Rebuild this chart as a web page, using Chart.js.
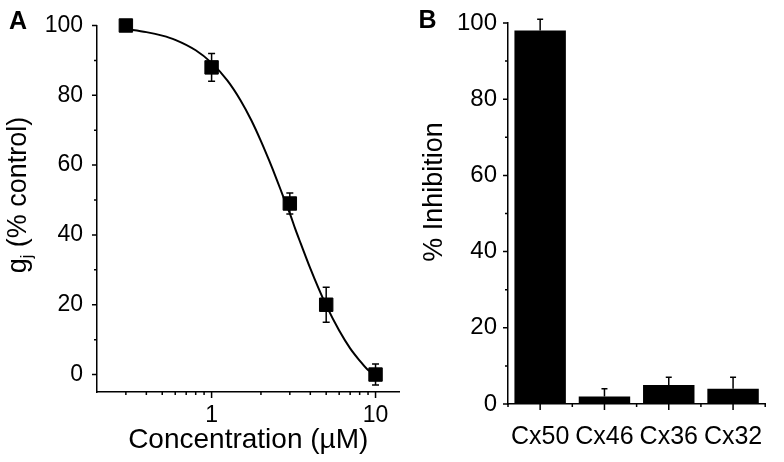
<!DOCTYPE html>
<html>
<head>
<meta charset="utf-8">
<script src="https://cdn.jsdelivr.net/npm/chart.js@4.4.1/dist/chart.umd.min.js"></script>
<style>
body { margin: 0; background: #fff; }
#wrap { position: relative; width: 784px; height: 462px; }
canvas { position: absolute; top: 0; }
#cvsA { left: 0; }
#cvsB { left: 410px; }
</style>
</head>
<body>
<div id="wrap">
<canvas id="cvsA" width="410" height="462"></canvas>
<canvas id="cvsB" width="374" height="462"></canvas>
</div>
<script>
// panel A - concentration / response
var concValues = [0.3, 1, 3, 5, 10];
var gjValues = [100, 88, 49, 20, 0];
var gjErrors = [0, 4, 3, 5, 3];
// fitted curve
var fitConc = [0.3, 0.4, 0.5, 0.6, 0.8, 1, 1.25, 1.5, 1.75, 2, 2.25, 2.5, 2.75, 3, 3.25, 3.5, 4, 4.5, 5, 6, 7, 8, 9, 10];
var fitGj = [99, 98.1, 97.1, 95.9, 92.9, 89.3, 84.2, 78.6, 72.8, 66.9, 61.2, 55.8, 50.7, 46.2, 41.5, 37.5, 30.4, 24.6, 19.8, 12.6, 7.5, 4, 1.3, 0];
var concTickLabels = [1, 10];
var concMinorTicks = [0.3, 0.4, 0.5, 0.6, 0.7, 0.8, 0.9, 2, 3, 4, 5, 6, 7, 8, 9];
var gjTickLabels = [0, 20, 40, 60, 80, 100];
var gjMinorTicks = [10, 30, 50, 70, 90];

// panel B - inhibition per connexin
var connexins = ["Cx50", "Cx46", "Cx36", "Cx32"];
var inhibition = [98, 2, 5, 4];
var inhibitionErrors = [3, 2, 2, 3];
var inhibitionTickLabels = [0, 20, 40, 60, 80, 100];
var inhibitionMinorTicks = [10, 30, 50, 70, 90];

var FONT = "'Liberation Sans', Arial, sans-serif";
Chart.defaults.font.family = FONT;
Chart.defaults.color = "#000";

var tickMarks = {
	id: "tickMarks",
	afterDraw: function(chart, args, opts) {
		var ctx = chart.ctx;
		var area = chart.chartArea;
		var xs = chart.scales.x, ys = chart.scales.y;
		ctx.save();
		ctx.strokeStyle = "#000";
		ctx.lineWidth = 1.5;
		ctx.beginPath();
		opts.xMajor.forEach(function(v) {
			var px = xs.getPixelForValue(v);
			ctx.moveTo(px, area.bottom); ctx.lineTo(px, area.bottom + 6);
		});
		opts.xMinor.forEach(function(v) {
			var px = xs.getPixelForValue(v);
			ctx.moveTo(px, area.bottom); ctx.lineTo(px, area.bottom + 3);
		});
		opts.yMajor.forEach(function(v) {
			var py = ys.getPixelForValue(v);
			ctx.moveTo(area.left - 5, py); ctx.lineTo(area.left, py);
		});
		opts.yMinor.forEach(function(v) {
			var py = ys.getPixelForValue(v);
			ctx.moveTo(area.left - 3, py); ctx.lineTo(area.left, py);
		});
		ctx.stroke();
		ctx.restore();
	}
};

var errorBars = {
	id: "errorBars",
	afterDatasetsDraw: function(chart, args, opts) {
		var ctx = chart.ctx;
		var ys = chart.scales.y;
		var ds = chart.data.datasets[opts.dataset];
		var meta = chart.getDatasetMeta(opts.dataset);
		ctx.save();
		ctx.strokeStyle = "#000";
		ctx.lineWidth = 1.5;
		ctx.beginPath();
		meta.data.forEach(function(el, i) {
			var e = opts.errors[i];
			if (!e) return;
			var v = ds.data[i].y !== undefined ? ds.data[i].y : ds.data[i];
			var top = ys.getPixelForValue(v + e);
			var bot = opts.both ? ys.getPixelForValue(v - e) : ys.getPixelForValue(v);
			ctx.moveTo(el.x, top); ctx.lineTo(el.x, bot);
			ctx.moveTo(el.x - opts.cap, top); ctx.lineTo(el.x + opts.cap, top);
			if (opts.both) {
				ctx.moveTo(el.x - opts.cap, bot); ctx.lineTo(el.x + opts.cap, bot);
			}
		});
		ctx.stroke();
		ctx.restore();
	}
};

// panel letter and rotated y title (with optional subscript)
var panelText = {
	id: "panelText",
	afterDraw: function(chart, args, opts) {
		var ctx = chart.ctx;
		ctx.save();
		ctx.fillStyle = "#000";
		ctx.font = "bold 25px " + FONT;
		ctx.textAlign = "center";
		ctx.textBaseline = "alphabetic";
		ctx.fillText(opts.letter, opts.x, opts.y);

		var big = "27px " + FONT;
		var small = "16px " + FONT;
		var parts = opts.title;
		var widths = parts.map(function(p) {
			ctx.font = p.sub ? small : big;
			return ctx.measureText(p.text).width;
		});
		var total = widths.reduce(function(a, b) { return a + b; }, 0);
		var pos = -total / 2;
		ctx.translate(opts.titleX, opts.titleY);
		ctx.rotate(-Math.PI / 2);
		ctx.textAlign = "left";
		parts.forEach(function(p, i) {
			ctx.font = p.sub ? small : big;
			ctx.fillText(p.text, pos, p.sub ? 6 : 0);
			pos += widths[i];
		});
		ctx.restore();
	}
};

new Chart(document.getElementById("cvsA"), {
	type: "scatter",
	data: {
		datasets: [
			{
				data: fitConc.map(function(c, i) { return {x: c, y: fitGj[i]}; }),
				showLine: true,
				borderColor: "#000",
				borderWidth: 2,
				pointRadius: 0,
				cubicInterpolationMode: "monotone",
				clip: false
			},
			{
				data: concValues.map(function(c, i) { return {x: c, y: gjValues[i]}; }),
				pointStyle: "rect",
				pointRadius: 9.5,
				backgroundColor: "#000",
				borderColor: "#000",
				borderWidth: 1,
				clip: false
			}
		]
	},
	options: {
		responsive: false,
		maintainAspectRatio: false,
		animation: false,
		layout: { padding: { top: 16, right: 5, left: 0, bottom: 0 } },
		scales: {
			x: {
				type: "logarithmic",
				min: 0.2,
				max: 14,
				grid: { display: false, drawTicks: false },
				border: { display: true, color: "#000", width: 1.5 },
				ticks: {
					padding: 12,
					autoSkip: false,
					maxRotation: 0,
					font: { size: 23, lineHeight: 1 },
					callback: function(v) { return String(v); }
				},
				title: {
					display: true,
					text: "Concentration (µM)",
					font: { size: 28, lineHeight: 1.2 },
					padding: { top: 0, bottom: 5 }
				},
				afterBuildTicks: function(s) { s.ticks = concTickLabels.map(function(v) { return {value: v}; }); },
				afterFit: function(s) { s.height = 70; }
			},
			y: {
				min: -5,
				max: 100,
				grid: { display: false, drawTicks: false },
				border: { display: true, color: "#000", width: 1.5 },
				ticks: { padding: 14, font: { size: 23, lineHeight: 1 } },
				afterBuildTicks: function(s) { s.ticks = gjTickLabels.map(function(v) { return {value: v}; }); },
				afterFit: function(s) { s.width = 97; }
			}
		},
		plugins: {
			legend: { display: false },
			tooltip: { enabled: false },
			tickMarks: { xMajor: concTickLabels, xMinor: concMinorTicks, yMajor: gjTickLabels, yMinor: gjMinorTicks },
			errorBars: { dataset: 1, errors: gjErrors, both: true, cap: 3.5 },
			panelText: {
				letter: "A", x: 18, y: 29,
				titleX: 26, titleY: 195,
				title: [{text: "g"}, {text: "j", sub: true}, {text: " (% control)"}]
			}
		}
	},
	plugins: [tickMarks, errorBars, panelText]
});

new Chart(document.getElementById("cvsB"), {
	type: "bar",
	data: {
		labels: connexins,
		datasets: [
			{
				data: inhibition,
				backgroundColor: "#000",
				borderWidth: 0,
				barPercentage: 0.8,
				categoryPercentage: 1.0
			}
		]
	},
	options: {
		responsive: false,
		maintainAspectRatio: false,
		animation: false,
		layout: { padding: { top: 12, right: 6, left: 0, bottom: 0 } },
		scales: {
			x: {
				grid: { display: false, drawTicks: false },
				border: { display: true, color: "#000", width: 1.5 },
				ticks: { padding: 21, maxRotation: 0, font: { size: 25, lineHeight: 1 } },
				afterFit: function(s) { s.height = 58; }
			},
			y: {
				min: 0,
				max: 100,
				grid: { display: false, drawTicks: false },
				border: { display: true, color: "#000", width: 1.5 },
				ticks: { padding: 11, font: { size: 24, lineHeight: 1 } },
				afterBuildTicks: function(s) { s.ticks = inhibitionTickLabels.map(function(v) { return {value: v}; }); },
				afterFit: function(s) { s.width = 98; }
			}
		},
		plugins: {
			legend: { display: false },
			tooltip: { enabled: false },
			tickMarks: {
				xMajor: connexins.map(function(c, i) { return i; }),
				xMinor: connexins.map(function(c, i) { return i - 0.5; }).concat([connexins.length - 0.5]),
				yMajor: inhibitionTickLabels,
				yMinor: inhibitionMinorTicks
			},
			errorBars: { dataset: 0, errors: inhibitionErrors, both: false, cap: 3 },
			panelText: {
				letter: "B", x: 17.5, y: 28,
				titleX: 32, titleY: 192,
				title: [{text: "% Inhibition"}]
			}
		}
	},
	plugins: [tickMarks, errorBars, panelText]
});
</script>
</body>
</html>
